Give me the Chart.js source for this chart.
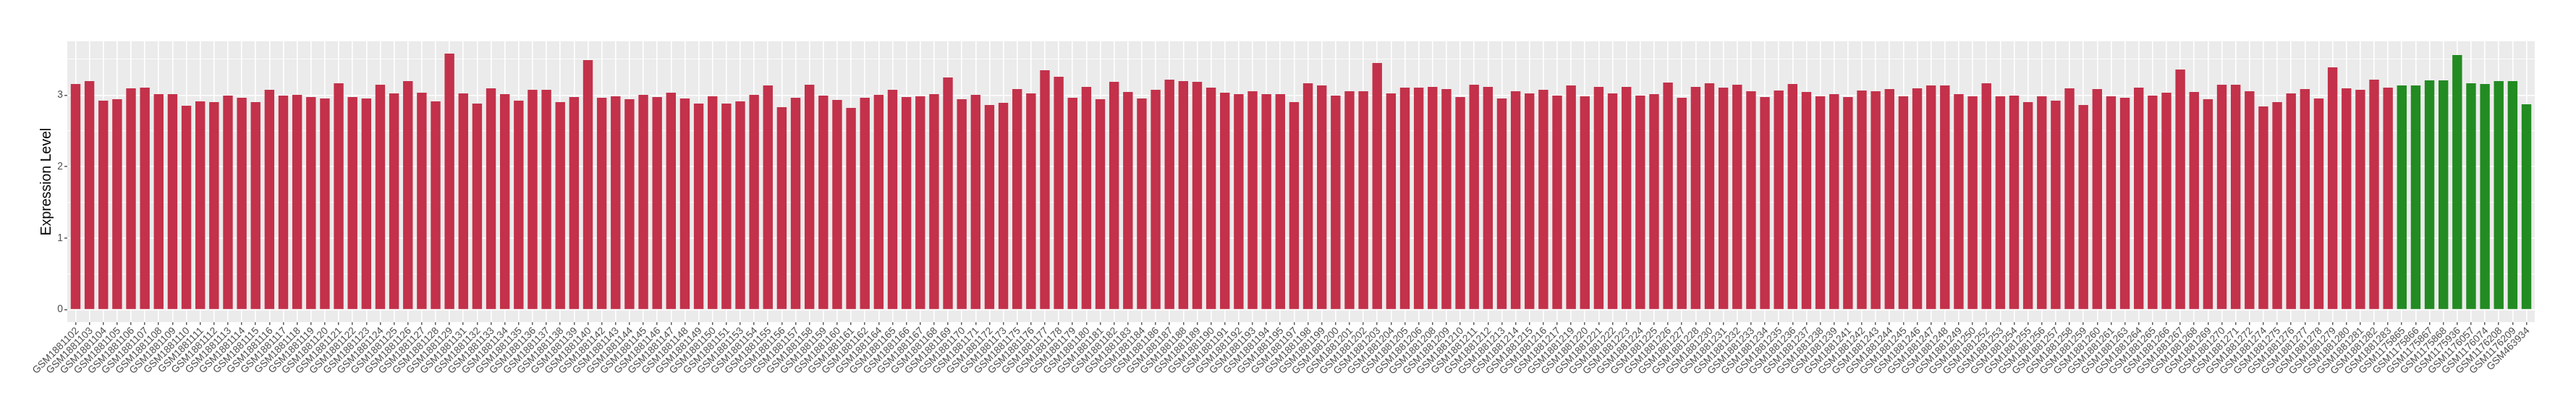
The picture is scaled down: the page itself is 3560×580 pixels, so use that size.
<!DOCTYPE html>
<html><head><meta charset="utf-8">
<script src="https://cdn.jsdelivr.net/npm/chart.js@4.4.0/dist/chart.umd.min.js"></script>
<style>html,body{margin:0;padding:0;background:#fff}#wrap{width:3560px;height:580px}</style>
</head><body><div id="wrap"><canvas id="c" width="3560" height="580"></canvas></div>
<script>
const redSamples = [
'GSM1881102','GSM1881103','GSM1881104','GSM1881105','GSM1881106','GSM1881107','GSM1881108','GSM1881109','GSM1881110','GSM1881111',
'GSM1881112','GSM1881113','GSM1881114','GSM1881115','GSM1881116','GSM1881117','GSM1881118','GSM1881119','GSM1881120','GSM1881121',
'GSM1881122','GSM1881123','GSM1881124','GSM1881125','GSM1881126','GSM1881127','GSM1881128','GSM1881129','GSM1881131','GSM1881132',
'GSM1881133','GSM1881134','GSM1881135','GSM1881136','GSM1881137','GSM1881138','GSM1881139','GSM1881140','GSM1881142','GSM1881143',
'GSM1881144','GSM1881145','GSM1881146','GSM1881147','GSM1881148','GSM1881149','GSM1881150','GSM1881151','GSM1881153','GSM1881154',
'GSM1881155','GSM1881156','GSM1881157','GSM1881158','GSM1881159','GSM1881160','GSM1881161','GSM1881162','GSM1881164','GSM1881165',
'GSM1881166','GSM1881167','GSM1881168','GSM1881169','GSM1881170','GSM1881171','GSM1881172','GSM1881173','GSM1881175','GSM1881176',
'GSM1881177','GSM1881178','GSM1881179','GSM1881180','GSM1881181','GSM1881182','GSM1881183','GSM1881184','GSM1881186','GSM1881187',
'GSM1881188','GSM1881189','GSM1881190','GSM1881191','GSM1881192','GSM1881193','GSM1881194','GSM1881195','GSM1881197','GSM1881198',
'GSM1881199','GSM1881200','GSM1881201','GSM1881202','GSM1881203','GSM1881204','GSM1881205','GSM1881206','GSM1881208','GSM1881209',
'GSM1881210','GSM1881211','GSM1881212','GSM1881213','GSM1881214','GSM1881215','GSM1881216','GSM1881217','GSM1881219','GSM1881220',
'GSM1881221','GSM1881222','GSM1881223','GSM1881224','GSM1881225','GSM1881226','GSM1881227','GSM1881228','GSM1881230','GSM1881231',
'GSM1881232','GSM1881233','GSM1881234','GSM1881235','GSM1881236','GSM1881237','GSM1881238','GSM1881239','GSM1881241','GSM1881242',
'GSM1881243','GSM1881244','GSM1881245','GSM1881246','GSM1881247','GSM1881248','GSM1881249','GSM1881250','GSM1881252','GSM1881253',
'GSM1881254','GSM1881255','GSM1881256','GSM1881257','GSM1881258','GSM1881259','GSM1881260','GSM1881261','GSM1881263','GSM1881264',
'GSM1881265','GSM1881266','GSM1881267','GSM1881268','GSM1881269','GSM1881270','GSM1881271','GSM1881272','GSM1881274','GSM1881275',
'GSM1881276','GSM1881277','GSM1881278','GSM1881279','GSM1881280','GSM1881281','GSM1881282','GSM1881283'];
const redValues = [
3.155,3.196,2.922,2.943,3.095,3.105,3.014,3.014,2.851,2.912,
2.902,2.993,2.963,2.902,3.074,2.993,3.003,2.973,2.953,3.165,
2.973,2.953,3.145,3.024,3.196,3.034,2.912,3.581,3.024,2.882,
3.095,3.014,2.922,3.074,3.074,2.902,2.973,3.490,2.963,2.983,
2.943,3.003,2.973,3.034,2.953,2.882,2.983,2.882,2.912,3.003,
3.135,2.831,2.963,3.145,2.993,2.932,2.821,2.963,3.003,3.074,
2.973,2.983,3.014,3.246,2.943,3.003,2.862,2.892,3.084,3.024,
3.348,3.257,2.963,3.115,2.943,3.186,3.044,2.953,3.074,3.216,
3.196,3.186,3.105,3.034,3.014,3.054,3.014,3.014,2.902,3.165,
3.135,2.993,3.054,3.054,3.449,3.024,3.105,3.105,3.115,3.084,
2.973,3.145,3.115,2.953,3.054,3.024,3.074,2.993,3.135,2.983,
3.115,3.024,3.115,2.993,3.014,3.176,2.963,3.115,3.165,3.105,
3.145,3.054,2.973,3.064,3.155,3.044,2.983,3.014,2.973,3.064,
3.054,3.084,2.983,3.095,3.135,3.135,3.014,2.983,3.165,2.983,
2.993,2.902,2.983,2.922,3.095,2.862,3.084,2.983,2.963,3.105,
2.993,3.034,3.358,3.044,2.943,3.145,3.145,3.054,2.841,2.902,
3.024,3.084,2.953,3.388,3.095,3.074,3.216,3.105];
const greenSamples = ['GSM1175865','GSM1175866','GSM1175867','GSM1175868','GSM1175936','GSM1176057','GSM1176074','GSM1176208','GSM1176209','GSM463934'];
const greenValues = [3.135,3.135,3.206,3.206,3.560,3.165,3.155,3.196,3.196,2.872];
const yTickLabels = [0, 1, 2, 3];
const yMinorTicks = [0.5, 1.5, 2.5, 3.5];
const yTitle = 'Expression Level';
const redColor = '#C3314A';
const greenColor = '#228B22';

const labels = redSamples.concat(greenSamples);
const values = redValues.concat(greenValues);
const colors = redSamples.map(() => redColor).concat(greenSamples.map(() => greenColor));
const allYTicks = yTickLabels.concat(yMinorTicks).sort((a, b) => a - b);
const isMajor = v => yTickLabels.indexOf(v) >= 0;
const FONT = '"Liberation Sans", Arial, sans-serif';

const panelBg = {
  id: 'panelBg',
  beforeDraw(chart) {
    const a = chart.chartArea, ctx = chart.ctx;
    ctx.save();
    ctx.fillStyle = '#EBEBEB';
    ctx.fillRect(a.left, a.top, a.right - a.left, a.bottom - a.top);
    ctx.restore();
  }
};

new Chart(document.getElementById('c'), {
  type: 'bar',
  data: {
    labels: labels,
    datasets: [{
      data: values,
      backgroundColor: colors,
      borderWidth: 0,
      barPercentage: 0.7,
      categoryPercentage: 1.0
    }]
  },
  options: {
    responsive: false,
    animation: false,
    devicePixelRatio: 1,
    layout: { padding: { left: 0, right: 57, top: 57, bottom: 0 } },
    plugins: { legend: { display: false }, tooltip: { enabled: false } },
    scales: {
      x: {
        type: 'category',
        offset: true,
        afterFit(scale) { scale.height = 135.2; },
        afterBuildTicks(scale) {
          // ggplot-style discrete expansion of 0.6 category on each side
          scale._startValue = -0.6;
          scale._valueRange = labels.length - 1 + 1.2;
        },
        border: { display: false },
        grid: {
          offset: false,
          color: '#FFFFFF',
          lineWidth: 1.6,
          drawTicks: true,
          tickLength: 4,
          tickColor: '#333333',
          tickWidth: 1.2
        },
        ticks: {
          autoSkip: false,
          minRotation: 45,
          maxRotation: 45,
          padding: 0,
          labelOffset: 2.5,
          color: '#4D4D4D',
          font: { family: FONT, size: 13.8 }
        }
      },
      y: {
        min: -0.1755,
        max: 3.753,
        afterFit(scale) { scale.width = 93; },
        afterBuildTicks(scale) { scale.ticks = allYTicks.map(v => ({ value: v })); },
        border: { display: false },
        grid: {
          color: '#FFFFFF',
          lineWidth: ctx => (ctx.tick && isMajor(ctx.tick.value)) ? 1.6 : 0.8,
          drawTicks: true,
          tickLength: 4,
          tickColor: ctx => (ctx.tick && isMajor(ctx.tick.value)) ? '#333333' : 'rgba(0,0,0,0)',
          tickWidth: 1.2
        },
        ticks: {
          padding: 2,
          color: '#4D4D4D',
          font: { family: FONT, size: 13.8 },
          callback: v => isMajor(v) ? String(v) : ''
        },
        title: {
          display: true,
          text: yTitle,
          color: '#000000',
          padding: { top: 53, bottom: 0 },
          font: { family: FONT, size: 19.5 }
        }
      }
    }
  },
  plugins: [panelBg]
});
</script>
</body></html>
